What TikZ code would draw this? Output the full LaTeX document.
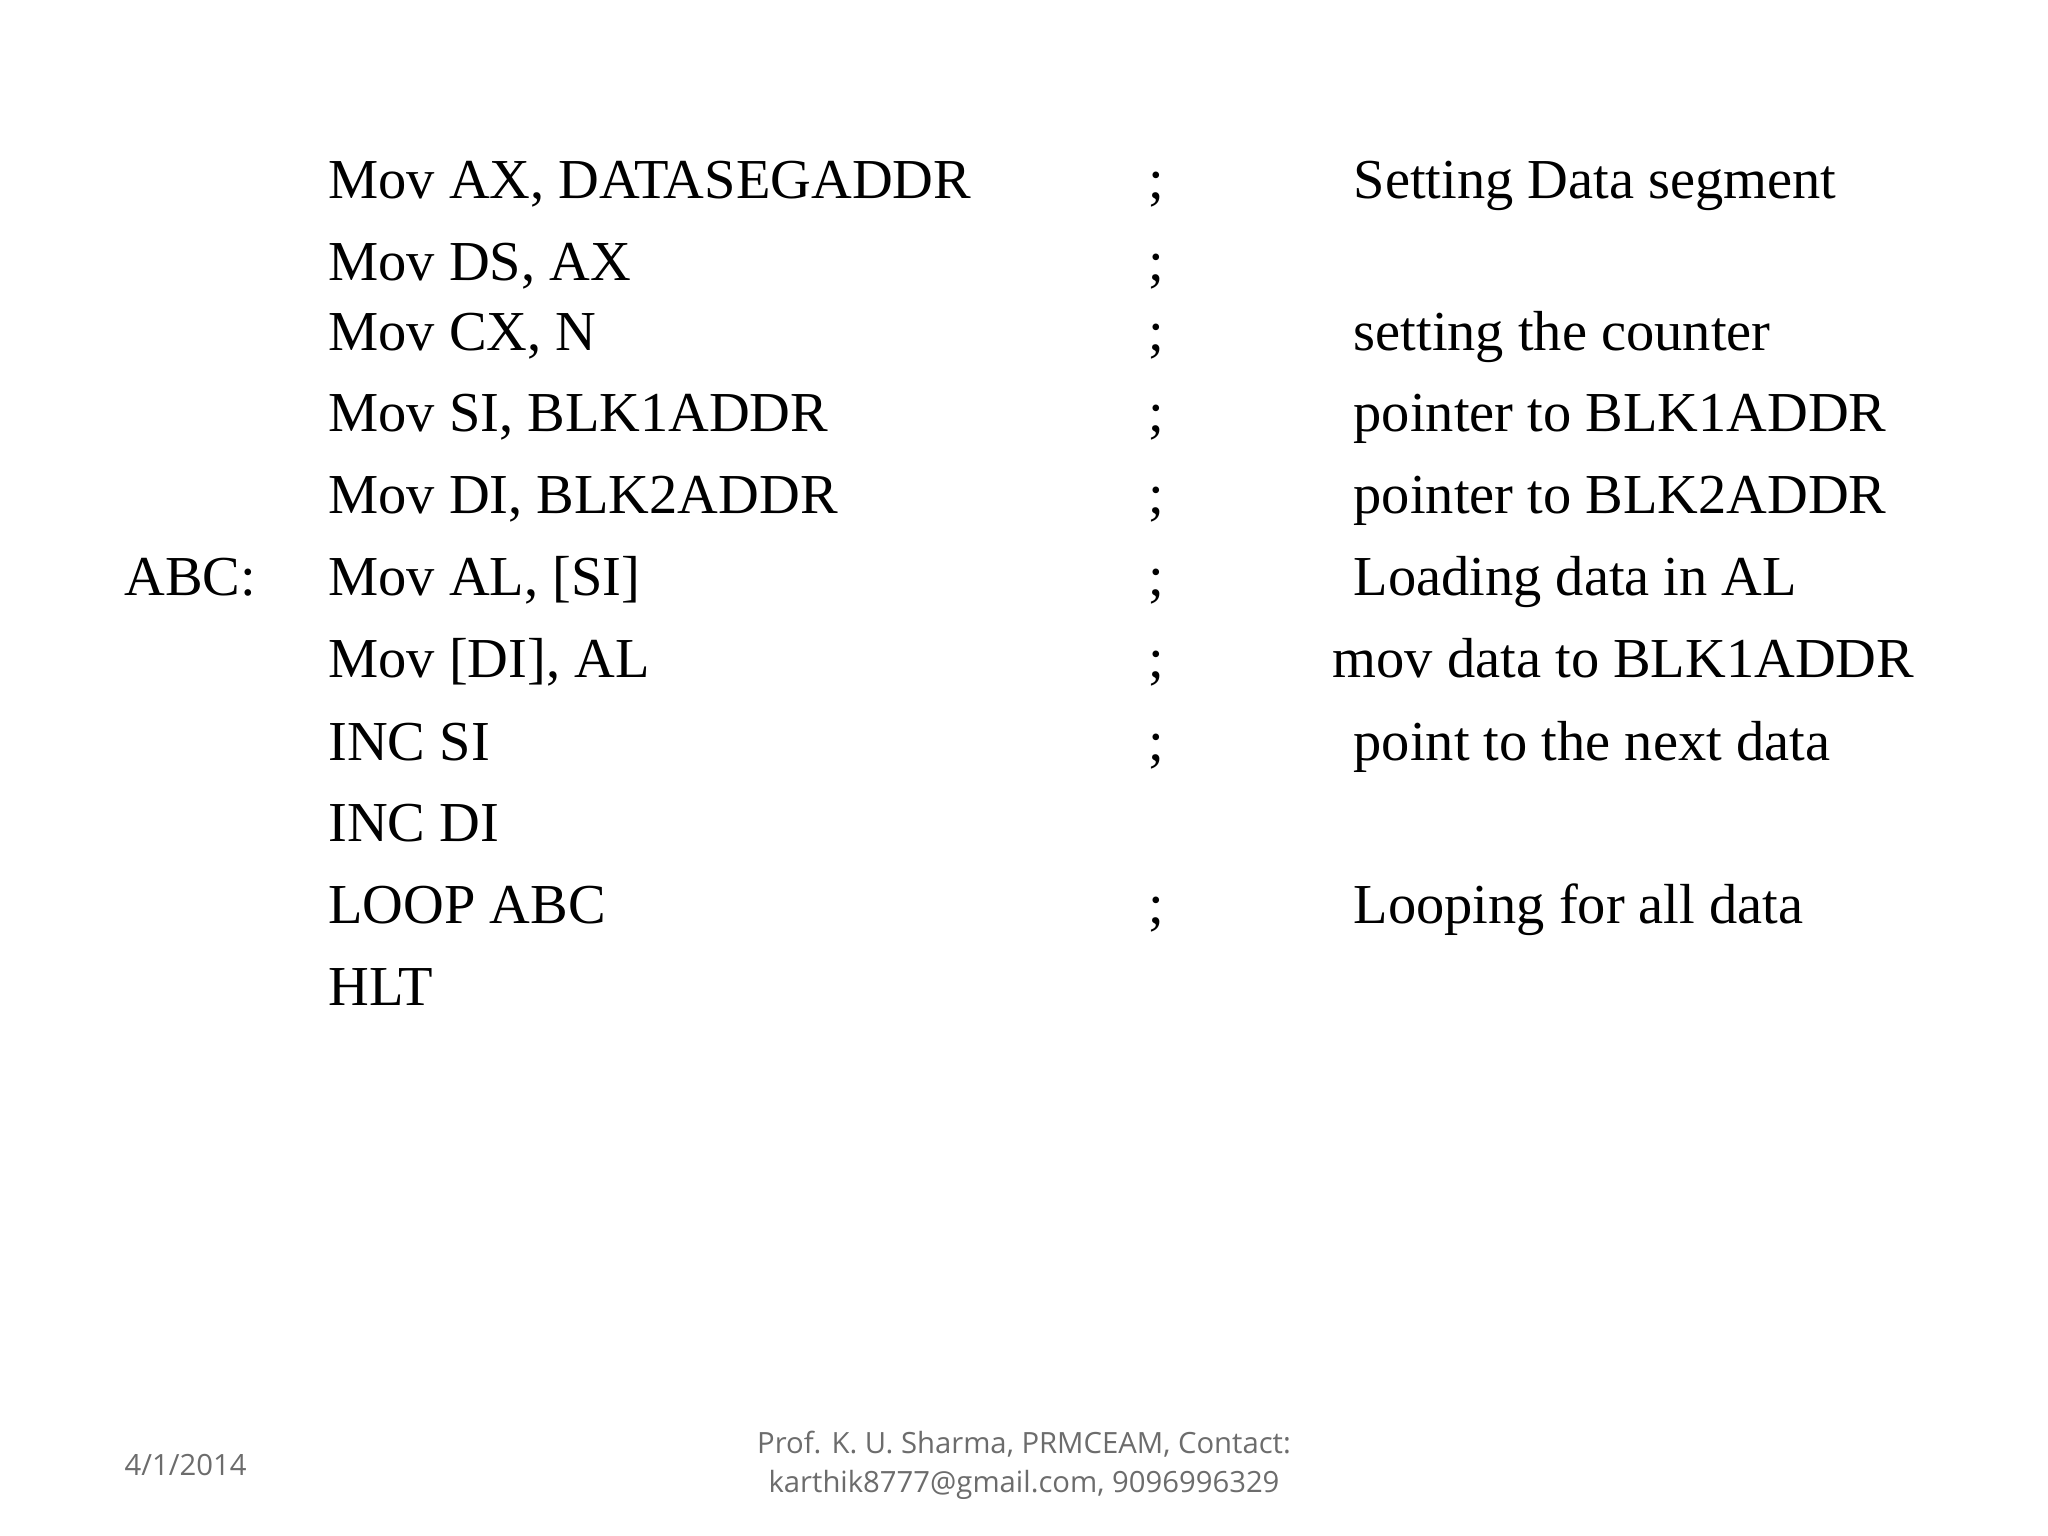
\documentclass[tikz,border=0pt]{standalone}
\usepackage{fontspec}
\setmainfont{Liberation Serif}
\newfontfamily\footfont{Open Sans}
\begin{document}
\begin{tikzpicture}[x=0.5pt,y=-0.5pt,
  code/.style={anchor=base west,inner sep=0pt,font=\fontsize{21.6}{26}\selectfont},
  foot/.style={font=\footfont\fontsize{11.2}{15}\selectfont,text=gray!85!black,inner sep=0pt}]
\useasboundingbox (0,0) rectangle (1568,1176);
\foreach \t/\c/\s/\y [count=\i] in {
 {Mov AX, DATASEGADDR}/{Setting Data segment}/;/152,
 {Mov DS, AX}/{}/;/215,
 {Mov CX, N}/{setting the counter}/;/268,
 {Mov SI, BLK1ADDR}/{pointer to BLK1ADDR}/;/330,
 {Mov DI, BLK2ADDR}/{pointer to BLK2ADDR}/;/393,
 {Mov AL, [SI]}/{Loading data in AL}/;/456,
 {Mov [DI], AL}/{}/;/519,
 {INC SI}/{point to the next data}/;/582,
 {INC DI}/{}/{}/644,
 {LOOP ABC}/{Looping for all data}/;/707,
 {HLT}/{}/{}/770}{
  \node[code] (i\i) at (251,\y) {\t};
  \node[code] (s\i) at (879,\y) {\s};
  \node[code] (c\i) at (1036,\y) {\c};
}
\node[code] (lbl) at (95,456) {ABC:};
\node[code] (c7b) at (1020,519) {mov data to BLK1ADDR};
\node[foot,anchor=base west] (date) at (95,1130) {4/1/2014};
\node[foot,align=center] (auth) at (784,1122) {Prof. K. U. Sharma, PRMCEAM, Contact:\\karthik8777@gmail.com, 9096996329};
\end{tikzpicture}
\end{document}
